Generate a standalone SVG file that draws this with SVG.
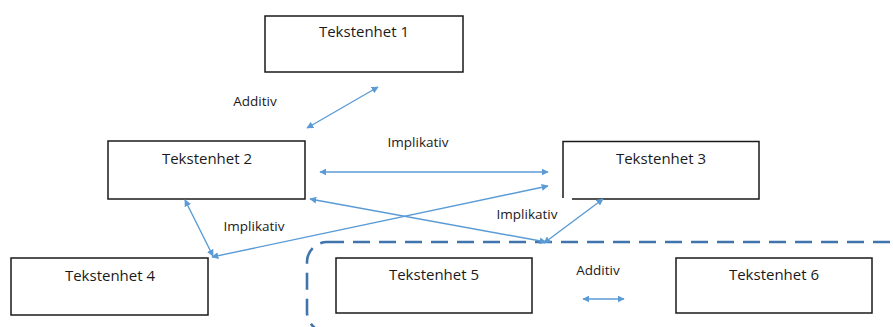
<svg xmlns="http://www.w3.org/2000/svg" width="893" height="327" viewBox="0 0 893 327">
  <style>
    .box { fill: #ffffff; stroke: #1a1a1a; stroke-width: 1.5; }
    .lbl { font-family: "Open Sans", "Liberation Sans", sans-serif; font-size: 15px; fill: #1a1a1a; text-anchor: middle; }
    .rel { font-family: "Open Sans", "Liberation Sans", sans-serif; font-size: 13.5px; fill: #1a1a1a; text-anchor: middle; }
    .link { stroke: #5b9bd5; stroke-width: 1.4; fill: none; marker-start: url(#head); marker-end: url(#head); }
    .group { fill: none; stroke: #3f74ad; stroke-width: 2.6; stroke-dasharray: 17 9; }
  </style>
  <defs>
    <marker id="head" viewBox="0 0 10 10" refX="9" refY="5" markerWidth="7" markerHeight="7" markerUnits="userSpaceOnUse" orient="auto-start-reverse">
      <path d="M0,0 L10,5 L0,10 z" fill="#5b9bd5"/>
    </marker>
  </defs>

  <rect width="893" height="327" fill="#ffffff"/>

  <!-- dashed grouping frame around units 5 and 6 -->
  <rect class="group" x="307" y="242" width="620" height="90" rx="20" ry="20"/>

  <g id="node1">
    <rect class="box" x="265" y="16" width="198" height="56"/>
    <text class="lbl" x="364" y="37">Tekstenhet 1</text>
  </g>
  <g id="node2">
    <rect class="box" x="108" y="141" width="197" height="58"/>
    <text class="lbl" x="207" y="164">Tekstenhet 2</text>
  </g>
  <g id="node3">
    <path class="box" d="M563,198 V141.5 H759 V199 H572"/>
    <text class="lbl" x="661" y="164">Tekstenhet 3</text>
  </g>
  <g id="node4">
    <rect class="box" x="11" y="258" width="197" height="57"/>
    <text class="lbl" x="110" y="281">Tekstenhet 4</text>
  </g>
  <g id="node5">
    <rect class="box" x="336" y="258" width="196" height="55"/>
    <text class="lbl" x="434" y="280">Tekstenhet 5</text>
  </g>
  <g id="node6">
    <rect class="box" x="676" y="258" width="196" height="55"/>
    <text class="lbl" x="774" y="280">Tekstenhet 6</text>
  </g>

  <g id="connectors">
    <line class="link" x1="307" y1="128" x2="378" y2="87"/>
    <line class="link" x1="320" y1="172" x2="548" y2="172"/>
    <line class="link" x1="185" y1="200" x2="213" y2="256"/>
    <line class="link" x1="212" y1="257" x2="548" y2="186"/>
    <line class="link" x1="310" y1="199" x2="546" y2="242"/>
    <line class="link" x1="603" y1="199" x2="544" y2="243"/>
    <line class="link" x1="583" y1="299" x2="624" y2="299"/>
    <text class="rel" x="255" y="106">Additiv</text>
    <text class="rel" x="418" y="147">Implikativ</text>
    <text class="rel" x="254" y="231">Implikativ</text>
    <text class="rel" x="527" y="219">Implikativ</text>
    <text class="rel" x="598" y="275">Additiv</text>
  </g>
</svg>
